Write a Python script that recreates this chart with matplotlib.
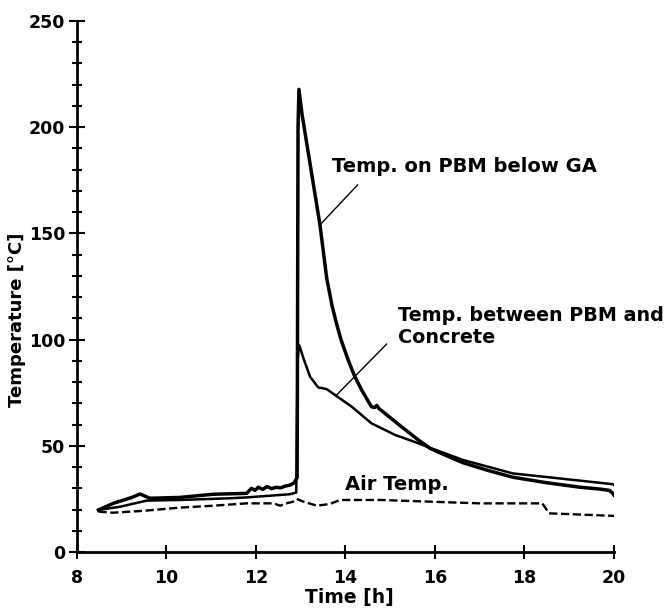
import matplotlib
matplotlib.use("Agg")
import matplotlib.pyplot as plt
from matplotlib.ticker import MultipleLocator

plt.rcParams['font.family'] = ['DejaVu Sans']
plt.rcParams['font.weight'] = 'bold'

# Temperature on PBM below GA
t_pbm = [8.48, 8.81, 9.2, 9.41, 9.63, 10.3, 11.05, 11.79, 11.9, 11.98, 12.05, 12.15,
         12.25, 12.35, 12.45, 12.55, 12.65, 12.76, 12.85, 12.92, 12.94, 12.96, 13.03,
         13.43, 13.58, 13.7, 13.8, 13.9, 14.06, 14.2, 14.36, 14.58, 14.65, 14.7,
         14.75, 14.88, 15.25, 15.63, 15.89, 16.22, 16.63, 17.2, 17.74, 18.5, 19.24,
         19.7, 19.9, 19.98, 20.0]
T_pbm = [19.8, 22.9, 25.5, 27.3, 25.3, 25.7, 27.2, 27.6, 30.0, 29.0, 30.5, 29.5,
         30.8, 29.8, 30.5, 30.2, 31.0, 31.5, 32.5, 35.0, 200.0, 217.8, 206.0,
         154.0, 129.0, 116.0, 107.5, 100.0, 90.4, 83.0, 76.3, 68.4, 68.0, 69.0,
         67.5, 65.3, 59.0, 52.7, 48.8, 45.7, 42.0, 38.3, 35.2, 32.6, 30.5,
         29.6, 29.0, 27.5, 26.8]

# Temperature between PBM and concrete
t_bet = [8.48, 8.96, 9.56, 10.3, 11.42, 11.79, 12.76, 12.9, 12.93, 12.96, 12.99,
         13.06, 13.21, 13.39, 13.58, 13.8, 14.14, 14.58, 15.11, 15.63, 15.89, 16.22,
         16.63, 17.74, 19.24, 19.98, 20.0]
T_bet = [19.8, 21.3, 24.2, 24.5, 25.3, 25.7, 27.2, 28.0, 90.0, 97.5, 96.0,
         91.2, 82.5, 77.5, 76.7, 73.4, 68.4, 60.6, 55.1, 51.2, 49.0, 46.5,
         43.3, 37.0, 33.6, 31.9, 31.5]

# Air temperature
t_air = [8.48, 8.8, 9.5, 10.3, 11.05, 11.79, 12.39, 12.54, 12.7, 12.83, 12.91,
         13.06, 13.36, 13.65, 13.88, 14.77, 15.89, 17.0, 18.4, 18.46, 18.55, 20.0]
T_air = [19.0, 18.5, 19.4, 20.9, 21.8, 22.9, 22.9, 21.8, 23.0, 23.7, 25.0,
         23.7, 21.8, 22.6, 24.5, 24.5, 23.7, 22.9, 22.9, 21.0, 18.2, 17.0]

x_ticks = [8, 10, 12, 14, 16, 18, 20]
y_ticks = [0, 50, 100, 150, 200, 250]

fig = plt.figure(figsize=(6.67, 6.08), dpi=100)
ax = fig.add_axes([0.1154, 0.0921, 0.8051, 0.8734])

ax.plot(t_pbm, T_pbm, color='black', lw=2.5)
ax.plot(t_bet, T_bet, color='black', lw=1.8)
ax.plot(t_air, T_air, color='black', lw=1.7, linestyle=(0, (3.5, 1.5)))

ax.set_xlim(8, 20)
ax.set_ylim(0, 250)
ax.set_xticks(x_ticks)
ax.set_yticks(y_ticks)
ax.yaxis.set_minor_locator(MultipleLocator(10))

for s in ['top', 'right']:
    ax.spines[s].set_visible(False)
for s in ['left', 'bottom']:
    ax.spines[s].set_linewidth(2)

ax.tick_params(axis='x', which='major', direction='inout', length=10, width=1.5,
               pad=7, labelsize=12.5)
ax.tick_params(axis='y', which='major', direction='inout', length=11, width=1.5,
               pad=3, labelsize=12.5)
ax.tick_params(axis='y', which='minor', direction='inout', length=7, width=1.5)
for lab in ax.get_xticklabels() + ax.get_yticklabels():
    lab.set_fontweight('bold')

ax.set_xlabel('Time [h]', fontsize=13.5, fontweight='bold')
ax.xaxis.set_label_coords(0.5065, -0.0678)
ax.xaxis.label.set_va('top')
ax.set_ylabel('Temperature [°C]', fontsize=13, fontweight='bold')
ax.yaxis.set_label_coords(-0.112, 0.437)
ax.yaxis.label.set_va('center')
ax.yaxis.label.set_ha('center')

# annotations
ax.text(13.69, 179.0, 'Temp. on PBM below GA', fontsize=14, fontweight='bold',
        va='baseline', ha='left')
ax.plot([13.43, 14.27], [154.0, 172.8], color='black', lw=1)

ax.text(15.18, 98.3, 'Temp. between PBM and\nConcrete', fontsize=13.8,
        fontweight='bold', va='baseline', ha='left', linespacing=1.2,
        clip_on=False)
ax.plot([13.80, 14.92], [73.9, 97.9], color='black', lw=1)

ax.text(13.99, 29.2, 'Air Temp.', fontsize=14, fontweight='bold',
        va='baseline', ha='left')

fig.savefig('out.png', dpi=100)
